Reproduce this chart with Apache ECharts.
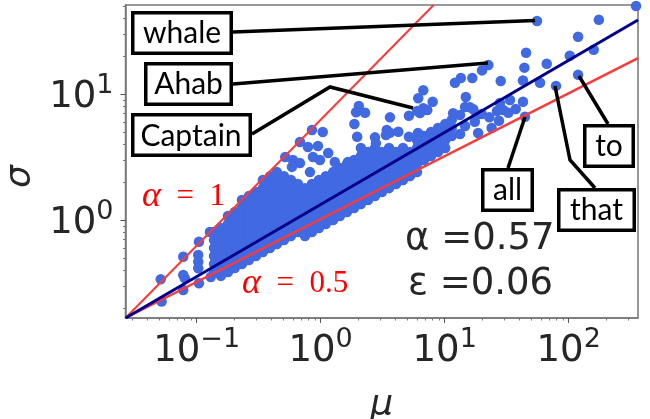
<!DOCTYPE html>
<html><head><meta charset="utf-8">
<style>html,body{margin:0;padding:0;background:#fff}#c{width:650px;height:419px}</style>
<script src="https://cdn.jsdelivr.net/npm/echarts@6/dist/echarts.min.js"></script>
</head><body><div id="c"></div>
<script>
// Axis ranges and ticks
const xRange = [0.0267, 362];
const yRange = [0.1668, 50.9];
const xMajor = [0.1, 1, 10, 100];
const yMajor = [1, 10];
const xMinor = [0.03,0.04,0.05,0.06,0.07,0.08,0.09,0.2,0.3,0.4,0.5,0.6,0.7,0.8,0.9,2,3,4,5,6,7,8,9,20,30,40,50,60,70,80,90,200,300];
const yMinor = [0.2,0.3,0.4,0.5,0.6,0.7,0.8,0.9,2,3,4,5,6,7,8,9,20,30,40,50];

// Dense cloud of words: mean value, then the std values read at that mean
const cloudMu = [0.138,0.157,0.179,0.203,0.232,0.264,0.301,0.342,0.390,0.444,0.506,0.576,0.656,0.747,0.851,0.969,1.10,1.26,1.43,1.63,1.86,2.11,2.41,2.74,3.12,3.56,4.05,4.61,5.25,5.98,6.81,7.76,8.83,10.1,11.4];
const cloudSigma = [
 [.387,.448,.518,.600,.694,.803],
 [.360,.416,.482,.557,.645,.746,.864],
 [.387,.448,.518,.600,.694,.803,.930,1.076],
 [.416,.482,.557,.645,.746,.864,1.00,1.157],
 [.448,.518,.600,.694,.803,.930,1.076,1.245,1.44],
 [.482,.557,.645,.746,.864,1.00,1.157,1.34,1.55],
 [.518,.600,.694,.803,.930,1.076,1.245,1.44,1.67],
 [.557,.645,.746,.864,1.00,1.157,1.34,1.55,1.79,2.08],
 [.600,.694,.803,.930,1.076,1.245,1.44,1.67,1.93,2.23],
 [.645,.746,.864,1.00,1.157,1.34,1.55,1.79,2.08,2.40],
 [.694,.803,.930,1.076,1.245,1.44,1.67,1.93,2.23],
 [.746,.864,1.00,1.157,1.34,1.55,1.79,2.08],
 [.803,.930,1.076,1.245,1.44,1.67,1.93],
 [.746,.864,1.00,1.157,1.34,1.55,1.79],
 [.803,.930,1.076,1.245,1.44,1.67,1.93],
 [.864,1.00,1.157,1.34,1.55,1.79,2.08],
 [.930,1.076,1.245,1.44,1.67,1.93,2.23],
 [1.00,1.157,1.34,1.55,1.79,2.08,2.40],
 [1.076,1.245,1.44,1.67,1.93,2.23,2.59],
 [1.157,1.34,1.55,1.79,2.08,2.40,2.78],
 [1.245,1.44,1.67,1.93,2.23,2.59,2.99],
 [1.34,1.55,1.79,2.08,2.40,2.78,3.22,3.73],
 [1.44,1.67,1.93,2.23,2.59,2.99,3.46],
 [1.55,1.79,2.08,2.40,2.78,3.22,3.73],
 [1.67,1.93,2.23,2.59,2.99,3.46],
 [1.79,2.08,2.40,2.78,3.22,3.73],
 [1.93,2.23,2.59,2.99,3.46],
 [2.08,2.40,2.78,3.22,3.73],
 [2.23,2.59,2.99,3.46],
 [2.40,2.78,3.22,3.73,4.31],
 [2.99,3.46,4.01,4.64],
 [3.22,3.73,4.31,4.99],
 [3.46,4.01,4.64,5.37],
 [3.73,4.31,4.99,5.78],
 [4.64,5.37,6.22]
];

// Individually visible words
const soloMu = [.0513,.0522,.078,.078,.0805,.078,.1044,.103,.103,.103,.1044,.128,.130,
 .518,.598,.681,.79,.951,1.04,.851,.681,.867,.987,1.15,1.30,1.66,2.0,.587,.82,
 2.03,1.93,2.28,1.87,1.97,3.62,6.72,6.12,8.0,5.15,6.01,6.72,7.24,6.32,3.41,3.62,4.23,3.36,5.15,6.09,2.74,2.79,
 55.5,175,349,119,45.3,102,159,66.5,43.9,22.5,20,16.7,13.5,12.1,28.3,42.8,58.7,79,119,14.8,33.6,42.8,27.9,16,14.6,17,37.4,29.7,32.6,26.4,22.9,19.9,44.4,27.4,18.1,17.5,13.3,23.9,14.6,18.6,13.3,11.7];
const soloSigma = [.338,.225,.511,.366,.344,.278,.673,.527,.467,.414,.315,.803,.353,
 3.16,2.99,2.83,3.80,3.87,4.99,5.18,4.16,3.16,2.99,3.40,2.89,2.89,2.83,2.64,2.40,
 8.03,7.16,7.11,5.78,4.58,6.53,10.7,9.25,8.69,6.72,7.33,7.70,7.46,7.07,5.18,4.93,5.02,4.73,4.58,4.90,4.53,4.06,
 38.0,38.9,49.9,28.5,21.3,20.1,22.5,17.4,16.2,17.0,15.4,13.4,13.4,12.3,12.7,12.8,12.3,11.6,14.2,9.47,8.96,8.69,8.49,7.84,7.89,7.56,7.60,7.46,7.11,7.33,6.53,6.94,6.61,6.14,6.81,6.03,6.81,5.37,5.57,4.90,4.82,7.03];

// Reference lines (end points)
const fitMu = [0.0267, 362],   fitSigma = [0.1668, 38.7];
const oneMu = [0.0267, 8.15],  oneSigma = [0.1668, 50.9];
const halfMu = [0.0267, 362],  halfSigma = [0.1668, 19.3];

// Text
const wordLabels = ['whale','Ahab','Captain','all','that','to'];

const cloud = [];
cloudMu.forEach((m,i)=>cloudSigma[i].forEach(s=>cloud.push([m,s])));
const solo = soloMu.map((m,i)=>[m,soloSigma[i]]);
const pair = (a,b)=>a.map((v,i)=>[v,b[i]]);

const supMap = {'0.1':'−1','1':'0','10':'1','100':'2'};
const tickFmt = v => { const k = supMap[String(+(+v).toPrecision(3))]; return k===undefined ? '' : '{b|10}{s|'+k+'}'; };
const rich = {
  b:{fontFamily:'DejaVu Sans',fontSize:37,color:'#262626',lineHeight:44,verticalAlign:'bottom',padding:[0,0,0,0]},
  s:{fontFamily:'DejaVu Sans',fontSize:27,color:'#262626',lineHeight:44,verticalAlign:'top',padding:[0,0,12,0]}
};
const axisCommon = (type,range)=>({type:'log',logBase:10,min:range[0],max:range[1],splitLine:{show:false},minorTick:{show:false},minorSplitLine:{show:false}});
const lineGray = {show:true,lineStyle:{color:'#777',width:1.5}};

function box(x,y,w,h,text,cx,cy){
  return [
   {type:'rect',z:100,shape:{x:x+1.75,y:y+1.75,width:w-3.5,height:h-3.5},style:{fill:'#fff',stroke:'#000',lineWidth:3.5}},
   {type:'text',z:101,x:cx,y:cy,style:{text:text,fontFamily:'Lato',fontSize:30,fill:'#000',align:'center',verticalAlign:'middle'}}
  ];
}
const leader = pts => ({type:'polyline',z:99,shape:{points:pts},style:{stroke:'#000',lineWidth:3.5,fill:null}});
const txt = (x,y,t,f,c,st) => ({type:'text',z:90,x:x,y:y,style:Object.assign({text:t,fontFamily:f,fontSize:37,fill:c,verticalAlign:'middle'},st||{})});
const redRich = {a:{fontFamily:'Liberation Serif',fontStyle:'italic',fontSize:36,fill:'#ff0000'},n:{fontFamily:'Liberation Serif',fontSize:31,fill:'#ff0000'}};

const chart = echarts.init(document.getElementById('c'),null,{renderer:'canvas'});
chart.setOption({
  animation:false,
  backgroundColor:'#fff',
  grid:{left:125.5,right:12,top:5,bottom:101,show:true,borderColor:'#777',borderWidth:1.5,backgroundColor:'#fff',outerBoundsMode:'none',containLabel:false},
  xAxis:[
   Object.assign(axisCommon('x',xRange),{axisLine:lineGray,name:'μ',nameLocation:'middle',nameGap:70,nameTextStyle:{fontFamily:'DejaVu Sans',fontStyle:'italic',fontSize:36,color:'#262626'},
     axisTick:{show:true,length:5,lineStyle:{color:'#555',width:1},customValues:xMajor},
     axisLabel:{show:true,customValues:xMajor,formatter:tickFmt,rich:rich,margin:8,hideOverlap:false,showMinLabel:true,showMaxLabel:true}}),
   Object.assign(axisCommon('x',xRange),{axisLine:{show:false},position:'bottom',
     axisTick:{show:true,length:2.5,lineStyle:{color:'#777',width:1},customValues:xMinor},axisLabel:{show:false}})
  ],
  yAxis:[
   Object.assign(axisCommon('y',yRange),{axisLine:lineGray,name:'σ',nameLocation:'middle',nameGap:82,nameRotate:90,nameTextStyle:{fontFamily:'DejaVu Sans',fontStyle:'italic',fontSize:36,color:'#262626',padding:[0,30,0,0]},
     axisTick:{show:true,length:5,lineStyle:{color:'#555',width:1},customValues:yMajor},
     axisLabel:{show:true,customValues:yMajor,formatter:tickFmt,rich:rich,margin:12,hideOverlap:false}}),
   Object.assign(axisCommon('y',yRange),{axisLine:{show:false},position:'left',
     axisTick:{show:true,length:2.5,lineStyle:{color:'#777',width:1},customValues:yMinor},axisLabel:{show:false}})
  ],
  series:[
   {type:'scatter',name:'cloud',data:cloud,symbolSize:10.5,itemStyle:{color:'#4169e1',opacity:1},z:2,silent:true},
   {type:'scatter',name:'words',data:solo,symbolSize:10.5,itemStyle:{color:'#4169e1',opacity:1},z:2,silent:true},
   {type:'line',name:'alpha=1',data:pair(oneMu,oneSigma),symbol:'none',lineStyle:{color:'#fa3a3a',width:2},z:3,silent:true},
   {type:'line',name:'alpha=0.5',data:pair(halfMu,halfSigma),symbol:'none',lineStyle:{color:'#fa3a3a',width:2.5},z:3,silent:true},
   {type:'line',name:'fit',data:pair(fitMu,fitSigma),symbol:'none',lineStyle:{color:'#00008b',width:3},z:4,silent:true}
  ],
  graphic:[
   leader([[233,32],[535,20.5]]),
   leader([[233,84],[488,63]]),
   leader([[252,134],[330,87],[413,108]]),
   leader([[508,168],[525,117]]),
   leader([[555,86],[570,160],[595,188]]),
   leader([[608,124],[579,76]]),
   ...box(131,11,102,44,wordLabels[0],182,33),
   ...box(144,62,89,44,wordLabels[1],188.5,84),
   ...box(131,113,121,44,wordLabels[2],191,136),
   ...box(481,168,53,44,wordLabels[3],507.5,190),
   ...box(557,188,79,44,wordLabels[4],596.5,210),
   ...box(583,124,52,44,wordLabels[5],609,146),
   {type:'text',z:90,x:142,y:197,style:{text:'{a|α}{n|  =  1}',rich:redRich,verticalAlign:'middle'}},
   {type:'text',z:90,x:242,y:284,style:{text:'{a|α}{n|  =  0.5}',rich:redRich,verticalAlign:'middle'}},
   txt(405,239,'α =0.57','DejaVu Sans','#262626'),
   txt(408,284,'ε =0.06','DejaVu Sans','#262626')
  ]
});
</script></body></html>
